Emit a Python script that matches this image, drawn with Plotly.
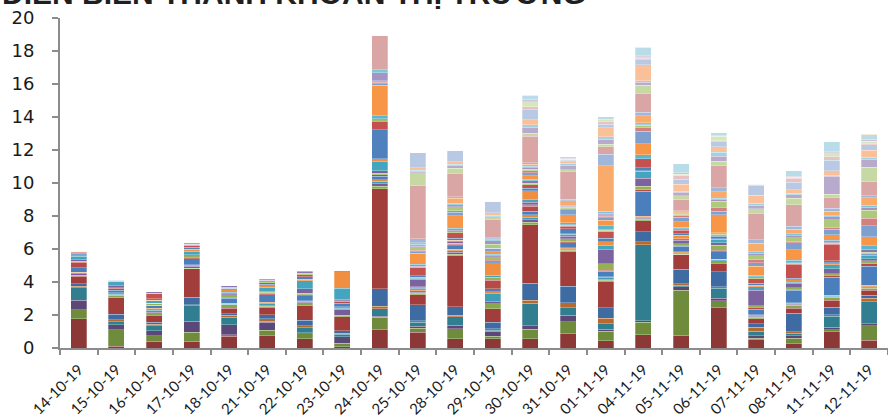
import plotly.graph_objects as go

dates = ["14-10-19", "15-10-19", "16-10-19", "17-10-19", "18-10-19", "21-10-19",
         "22-10-19", "23-10-19", "24-10-19", "25-10-19", "28-10-19", "29-10-19",
         "30-10-19", "31-10-19", "01-11-19", "04-11-19", "05-11-19", "06-11-19",
         "07-11-19", "08-11-19", "11-11-19", "12-11-19"]

s01 = [1.76, 0.1, 0.4, 0.4, 0.7, 0.75, 0.55, 0.08, 1.1, 0.95, 0.57, 0.57, 0.55, 0.85, 0.44, 0.8, 0.77, 2.45, 0.5, 0.26, 1.0, 0.46]
s02 = [0.57, 1.0, 0.34, 0.55, 0.1, 0.32, 0.32, 0.2, 0.75, 0.26, 0.6, 0.14, 0.6, 0.75, 0.59, 0.75, 2.73, 0.4, 0.1, 0.34, 0.12, 0.9]
s03 = [0.55, 0.3, 0.32, 0.67, 0.6, 0.5, 0.05, 0.4, 0.06, 0.1, 0.2, 0.3, 0.2, 0.4, 0.1, 0.1, 0.2, 0.16, 0.14, 0.14, 0.14, 0.1]
s04 = [0.77, 0.2, 0.28, 0.95, 0.46, 0.05, 0.3, 0.15, 0.47, 0.26, 0.53, 0.06, 1.37, 0.44, 0.34, 4.6, 0.1, 0.6, 0.28, 0.16, 0.65, 1.35]
s05 = [0.1, 0.1, 0.1, 0.06, 0.12, 0.16, 0.14, 0.07, 0.16, 0.08, 0.1, 0.1, 0.16, 0.3, 0.32, 0.2, 0.1, 0.1, 0.24, 0.1, 0.1, 0.2]
s06 = [0.15, 0.36, 0.12, 0.46, 0.1, 0.25, 0.32, 0.15, 1.05, 0.97, 0.5, 0.4, 1.05, 0.99, 0.65, 0.6, 0.87, 0.9, 0.2, 1.1, 0.47, 0.2]
s07 = [0.45, 1.0, 0.42, 1.7, 0.34, 0.44, 0.89, 0.85, 6.06, 0.6, 3.09, 0.81, 3.54, 2.1, 1.62, 0.65, 0.87, 0.53, 0.3, 0.3, 0.42, 0.3]
s08 = [0.05, 0.1, 0.1, 0.05, 0.14, 0.05, 0.1, 0.1, 0.15, 0.1, 0.1, 0.3, 0.16, 0.1, 0.05, 0.1, 0.04, 0.1, 0.1, 0.2, 0.14, 0.1]
s09 = [0.1, 0.05, 0.1, 0.1, 0.05, 0.05, 0.1, 0.35, 0.15, 0.05, 0.1, 0.12, 0.15, 0.05, 0.05, 0.05, 0.05, 0.05, 0.05, 0.05, 0.05, 0.05]
s10 = [0.05, 0.05, 0.1, 0.05, 0.05, 0.1, 0.05, 0.05, 0.15, 0.1, 0.1, 0.5, 0.15, 0.05, 0.1, 0.05, 0.05, 0.05, 0.05, 0.05, 0.05, 0.05]
s11 = [0.05, 0.1, 0.12, 0.05, 0.05, 0.1, 0.05, 0.1, 0.1, 0.05, 0.1, 0.1, 0.15, 0.05, 0.05, 0.1, 0.04, 0.05, 0.05, 0.05, 0.05, 0.1]
s12 = [0.25, 0.15, 0.2, 0.36, 0.32, 0.46, 0.3, 0.2, 0.2, 0.1, 0.2, 0.2, 0.2, 0.3, 0.34, 1.5, 0.36, 0.45, 0.35, 0.75, 1.11, 1.15]
s13 = [0.35, 0.1, 0, 0.1, 0.05, 0.05, 0.05, 0.1, 0.1, 0.05, 0.1, 0.5, 0.3, 0.05, 0.05, 0.1, 0.05, 0.08, 0.1, 0.05, 0.1, 0.14]
s14 = [0.05, 0.05, 0.1, 0.1, 0.15, 0.1, 0.1, 0.05, 0.1, 0.05, 0.05, 0.15, 0.1, 0.2, 0.4, 0.2, 0.1, 0.3, 0.1, 0.1, 0.1, 0.2]
s15 = [0.1, 0.1, 0, 0.05, 0.05, 0.05, 0.26, 0.1, 0.15, 0.46, 0.1, 0.05, 0.15, 0.15, 0.87, 0.5, 0.2, 0.16, 0.95, 0.24, 0.3, 0.1]
s16 = [0.2, 0.25, 0.15, 0.2, 0.1, 0.24, 0.5, 0.67, 0.55, 0.05, 0.05, 0.1, 0.15, 0.1, 0.24, 0.4, 0.1, 0.2, 0.2, 0.1, 0.26, 0.2]
s17 = [0.1, 0.05, 0.05, 0.15, 0.15, 0.1, 0.1, 1.0, 0.16, 0.05, 0.05, 0.77, 0.55, 0.05, 0.24, 0.05, 0.2, 0.05, 0.1, 0.14, 0.12, 0.05]
s18 = [0.1, 0.05, 0.1, 0.1, 0.1, 0.1, 0.15, 0.1, 1.76, 0.1, 0.1, 0.05, 0.15, 0.3, 0.2, 0.16, 0.1, 0.15, 0.1, 0.1, 0.12, 0.05]
s19 = [0.05, 0, 0.32, 0.1, 0, 0.1, 0.1, 0, 0.53, 0.48, 0.36, 0.1, 0.2, 0.15, 0.4, 0.55, 0.2, 0.05, 0.3, 0.85, 1.0, 0.05]
s20 = [0.05, 0, 0, 0.05, 0.05, 0.05, 0.1, 0, 0.07, 0.05, 0.05, 0.2, 0.1, 0.05, 0.1, 0, 0.05, 0.05, 0.05, 0.05, 0.05, 0.05]
s21 = [0, 0.05, 0.1, 0.05, 0.1, 0.1, 0.1, 0, 0.07, 0.05, 0.1, 0.1, 0.15, 0.05, 0.05, 0, 0.05, 0.05, 0.05, 0.05, 0.05, 0.2]
s22 = [0, 0, 0, 0, 0, 0, 0.05, 0, 0.2, 0.12, 0.1, 0.05, 0.1, 0.1, 0.2, 0.26, 0.1, 0.05, 0.1, 0.14, 0.12, 0.2]
s23 = [0, 0, 0, 0.1, 0, 0.08, 0, 0, 1.82, 0.65, 0.77, 0.15, 0.2, 0.5, 0.34, 0.65, 0.32, 1.1, 0.55, 0.65, 0.34, 0.55]
s24 = [0, 0, 0, 0, 0, 0, 0, 0, 0.1, 0.1, 0.2, 0.24, 0.2, 0.3, 0.14, 0.77, 0.26, 0.22, 0.2, 0.4, 0.34, 0.65]
s25 = [0, 0, 0, 0, 0, 0, 0, 0, 0.1, 0.1, 0.1, 0, 0.1, 0.05, 0.1, 0.2, 0.1, 0.24, 0.2, 0.1, 0.12, 0.46]
s26 = [0, 0, 0, 0, 0, 0, 0, 0, 0.1, 0.15, 0.25, 0.24, 0.1, 0.1, 0.1, 0.15, 0.1, 0.34, 0.24, 0.2, 0.44, 0.5]
s27 = [0, 0, 0, 0, 0, 0, 0, 0, 0.47, 0.1, 0.1, 0.2, 0.1, 0.05, 0.1, 0.05, 0.05, 0.1, 0.14, 0.12, 0.2, 0.18]
s28 = [0, 0, 0, 0, 0, 0, 0, 0, 0.18, 0.1, 0.1, 0.06, 0.1, 0.05, 0.1, 0.1, 0.05, 0.1, 0.1, 0.12, 0.06, 0.12]
s29 = [0, 0, 0, 0, 0, 0, 0, 0, 0, 0.1, 0.3, 0.06, 0.1, 0.3, 2.77, 0.44, 0.05, 0.38, 0.52, 0.28, 0.26, 0.44]
s30 = [0, 0, 0, 0, 0, 0, 0, 0, 0, 0.24, 0.1, 0.06, 0.1, 0.1, 0.7, 0.2, 0.05, 0.24, 0.2, 0.2, 0.2, 0.12]
s31 = [0, 0, 0, 0, 0, 0, 0, 0, 2.1, 3.2, 1.41, 1.11, 1.6, 1.68, 0.44, 1.15, 0.67, 1.35, 1.6, 1.3, 0.65, 0.85]
s32 = [0, 0, 0, 0, 0, 0, 0, 0, 0, 0.8, 0.3, 0.1, 0.2, 0.1, 0.16, 0.48, 0.26, 0.26, 0.28, 0.4, 0.2, 0.9]
s33 = [0, 0, 0, 0, 0, 0, 0, 0, 0, 0.1, 0.2, 0.06, 0.35, 0.28, 0.3, 0.2, 0.2, 0.3, 0.2, 0.2, 1.07, 0.46]
s34 = [0, 0, 0, 0, 0, 0, 0, 0, 0, 0.05, 0.05, 0.1, 0.15, 0.1, 0.14, 0.1, 0.07, 0.26, 0.12, 0.1, 0.08, 0.12]
s35 = [0, 0, 0, 0, 0, 0, 0, 0, 0, 0.15, 0.15, 0.14, 0.3, 0.1, 0.57, 0.95, 0.4, 0.34, 0.5, 0.2, 0.26, 0.45]
s36 = [0, 0, 0, 0, 0, 0, 0, 0, 0, 0.9, 0.7, 0.71, 0.6, 0.1, 0.2, 0.3, 0.32, 0.3, 0.6, 0.45, 0.65, 0.32]
s37 = [0, 0, 0, 0, 0, 0, 0, 0, 0, 0, 0, 0, 0.2, 0.05, 0.16, 0.1, 0.2, 0.06, 0.05, 0.26, 0.2, 0.1]
s38 = [0, 0, 0, 0, 0, 0, 0, 0, 0, 0, 0, 0, 0.3, 0, 0.1, 0.08, 0.1, 0.26, 0, 0.06, 0.24, 0.1]
s39 = [0, 0, 0, 0, 0, 0, 0, 0, 0, 0, 0, 0, 0.15, 0.05, 0.05, 0.08, 0.1, 0.05, 0, 0.05, 0.05, 0.12]
s40 = [0, 0, 0, 0, 0, 0, 0, 0, 0, 0, 0, 0, 0.25, 0.1, 0.14, 0.5, 0.55, 0.18, 0.05, 0.34, 0.62, 0.28]
s41 = [0, 0, 0, 0, 0, 0, 0, 0, 0, 0, 0, 0, 0, 0, 0, 0, 0, 0, 0, 0, 0, 0.05]

series = [s01, s02, s03, s04, s05, s06, s07, s08, s09, s10, s11, s12, s13, s14,
          s15, s16, s17, s18, s19, s20, s21, s22, s23, s24, s25, s26, s27, s28,
          s29, s30, s31, s32, s33, s34, s35, s36, s37, s38, s39, s40, s41]

colors = [
    "#8B3836", "#6F8B3C", "#5C4779", "#307E8F", "#B66A2E", "#3E6BA2",
    "#A13E3B", "#89A74D", "#775C9C", "#3F9EB7", "#E58B3F", "#4A7EBC",
    "#B54A47", "#94B255", "#7D62A0", "#45A5BF", "#F08F42", "#4F81BD",
    "#C4514E", "#A3C162", "#8E76B0", "#5BB5CC", "#F79646", "#7F9FCF",
    "#D2817F", "#AFC97A", "#A595C4", "#7FC5D8", "#F9AB6B", "#A0B6DA",
    "#DAA5A5", "#C6D8A3", "#B8AACD", "#A2D2E0", "#FAC09A", "#B9C9E3",
    "#E6C3C2", "#D8E5BF", "#CDC3DC", "#B9DDE8", "#FCD6B7",
]

title_text = "DIỄN BIẾN THANH KHOẢN THỊ TRƯỜNG"

fig = go.Figure()
for i, vals in enumerate(series):
    fig.add_trace(go.Bar(
        x=dates, y=vals, name=f"S{i+1}",
        marker=dict(color=colors[i], line=dict(color="rgba(255,255,255,0.45)", width=0.6)),
    ))

fig.update_layout(
    barmode="stack",
    width=888, height=419,
    margin=dict(l=60, r=0, t=18, b=71),
    bargap=0.575,
    showlegend=False,
    plot_bgcolor="white",
    paper_bgcolor="white",
    font=dict(family="Lato, Open Sans, sans-serif", color="#1a1a1a"),
    annotations=[dict(
        text=f"<b>{title_text}</b>", xref="paper", yref="paper",
        x=-60/828, y=1.018, xanchor="left", yanchor="bottom",
        showarrow=False, font=dict(family="Liberation Sans, Arial, sans-serif", size=30, color="#1f1f1f"),
    )],
)
fig.update_xaxes(
    type="category", tickangle=-45, tickfont=dict(size=15, color="#1a1a1a"),
    showline=True, linecolor="#8c8c8c", linewidth=2,
    ticks="outside", tickson="boundaries", ticklen=5, tickcolor="#8c8c8c", tickwidth=2,
    ticklabelstandoff=5, automargin=False,
    showgrid=False,
)
fig.update_yaxes(
    range=[0, 20], dtick=2, tickfont=dict(family="DejaVu Sans, sans-serif", size=18, color="#1a1a1a"),
    showline=True, linecolor="#8c8c8c", linewidth=2,
    ticks="outside", ticklen=6, tickcolor="#8c8c8c", tickwidth=1.5,
    ticklabelstandoff=14, automargin=False,
    showgrid=False, zeroline=False,
)

fig.write_html("out.html")
